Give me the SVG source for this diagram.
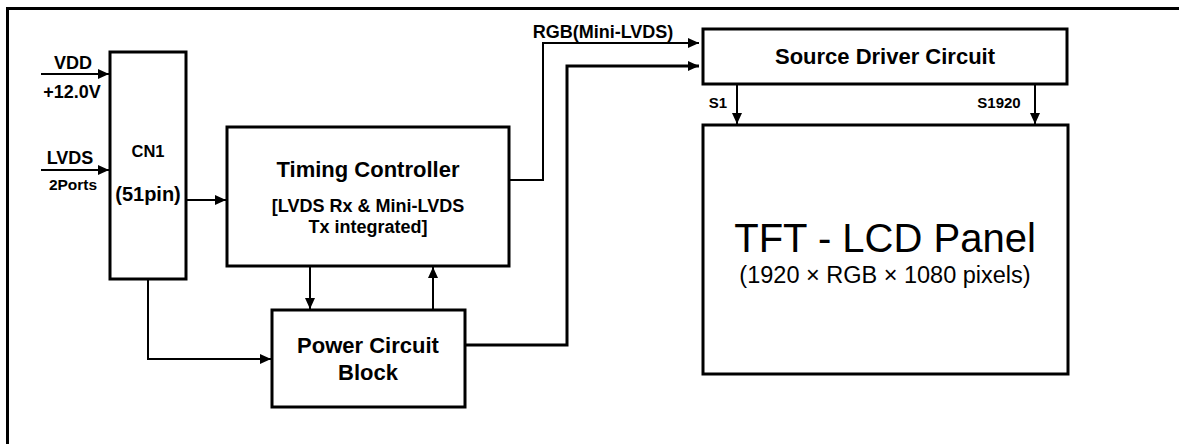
<svg xmlns="http://www.w3.org/2000/svg" width="1179" height="444" viewBox="0 0 1179 444">
<style>
.box{fill:#fff;stroke:#000;stroke-width:3}
.frame{fill:none;stroke:#000;stroke-width:3}
.ln{fill:none;stroke:#000;stroke-width:2}
.lt{fill:none;stroke:#000;stroke-width:3}
.b{font-family:"Liberation Sans",Arial,sans-serif;font-weight:bold;fill:#000;text-anchor:middle}
.r{font-family:"Liberation Sans",Arial,sans-serif;fill:#000;text-anchor:middle}
</style>
<defs>
<marker id="ah" markerUnits="userSpaceOnUse" markerWidth="12" markerHeight="10" refX="11" refY="5" orient="auto">
<path d="M0,0 L11,5 L0,10 Z" fill="#000"/>
</marker>
</defs>
<rect width="1179" height="444" fill="#fff"/>
<path class="frame" d="M7.5,446 V8.5 H1182"/>

<g id="connectors">
<line class="ln" x1="41" y1="74" x2="109" y2="74" marker-end="url(#ah)"/>
<line class="ln" x1="41" y1="170" x2="109" y2="170" marker-end="url(#ah)"/>
<line class="ln" x1="187" y1="200" x2="226" y2="200" marker-end="url(#ah)"/>
<polyline class="ln" points="148,279 148,359 271,359" marker-end="url(#ah)"/>
<line class="ln" x1="310" y1="267" x2="310" y2="309" marker-end="url(#ah)"/>
<line class="ln" x1="433" y1="309" x2="433" y2="267" marker-end="url(#ah)"/>
<polyline class="ln" points="509,180 543,180 543,43 699,43" marker-end="url(#ah)"/>
<polyline class="lt" points="465,345 567,345 567,66 699,66" marker-end="url(#ah)"/>
<line class="ln" x1="737" y1="85" x2="737" y2="124" marker-end="url(#ah)"/>
<line class="ln" x1="1035" y1="85" x2="1035" y2="124" marker-end="url(#ah)"/>
</g>

<g id="inputs">
<text class="b" x="73" y="69" font-size="18">VDD</text>
<text class="b" x="72" y="98" font-size="18">+12.0V</text>
<text class="b" x="70" y="164" font-size="18">LVDS</text>
<text class="b" x="73" y="190" font-size="15.5">2Ports</text>
</g>

<g id="cn1">
<rect class="box" x="110" y="52" width="76" height="227"/>
<text class="b" x="148" y="157" font-size="16.5">CN1</text>
<text class="b" x="148" y="201" font-size="20">(51pin)</text>
</g>

<g id="timing-controller">
<rect class="box" x="227" y="127" width="282" height="139"/>
<text class="b" x="368" y="177" font-size="22">Timing Controller</text>
<text class="b" x="368" y="212" font-size="18">[LVDS Rx &amp; Mini-LVDS</text>
<text class="b" x="368" y="233" font-size="18">Tx integrated]</text>
</g>

<g id="power-circuit">
<rect class="box" x="272" y="310" width="193" height="97"/>
<text class="b" x="368" y="353" font-size="22">Power Circuit</text>
<text class="b" x="368" y="380" font-size="22">Block</text>
</g>

<g id="rgb-label">
<text class="b" x="603" y="38" font-size="18">RGB(Mini-LVDS)</text>
</g>

<g id="source-driver">
<rect class="box" x="703" y="29" width="364" height="55"/>
<text class="b" x="885" y="64" font-size="22">Source Driver Circuit</text>
<text class="b" x="718" y="108" font-size="15">S1</text>
<text class="b" x="999" y="108" font-size="15">S1920</text>
</g>

<g id="tft-panel">
<rect class="box" x="703" y="125" width="365" height="249"/>
<text class="r" x="885" y="252" font-size="40">TFT - LCD Panel</text>
<text class="r" x="885" y="283" font-size="23.5">(1920 × RGB × 1080 pixels)</text>
</g>
</svg>
